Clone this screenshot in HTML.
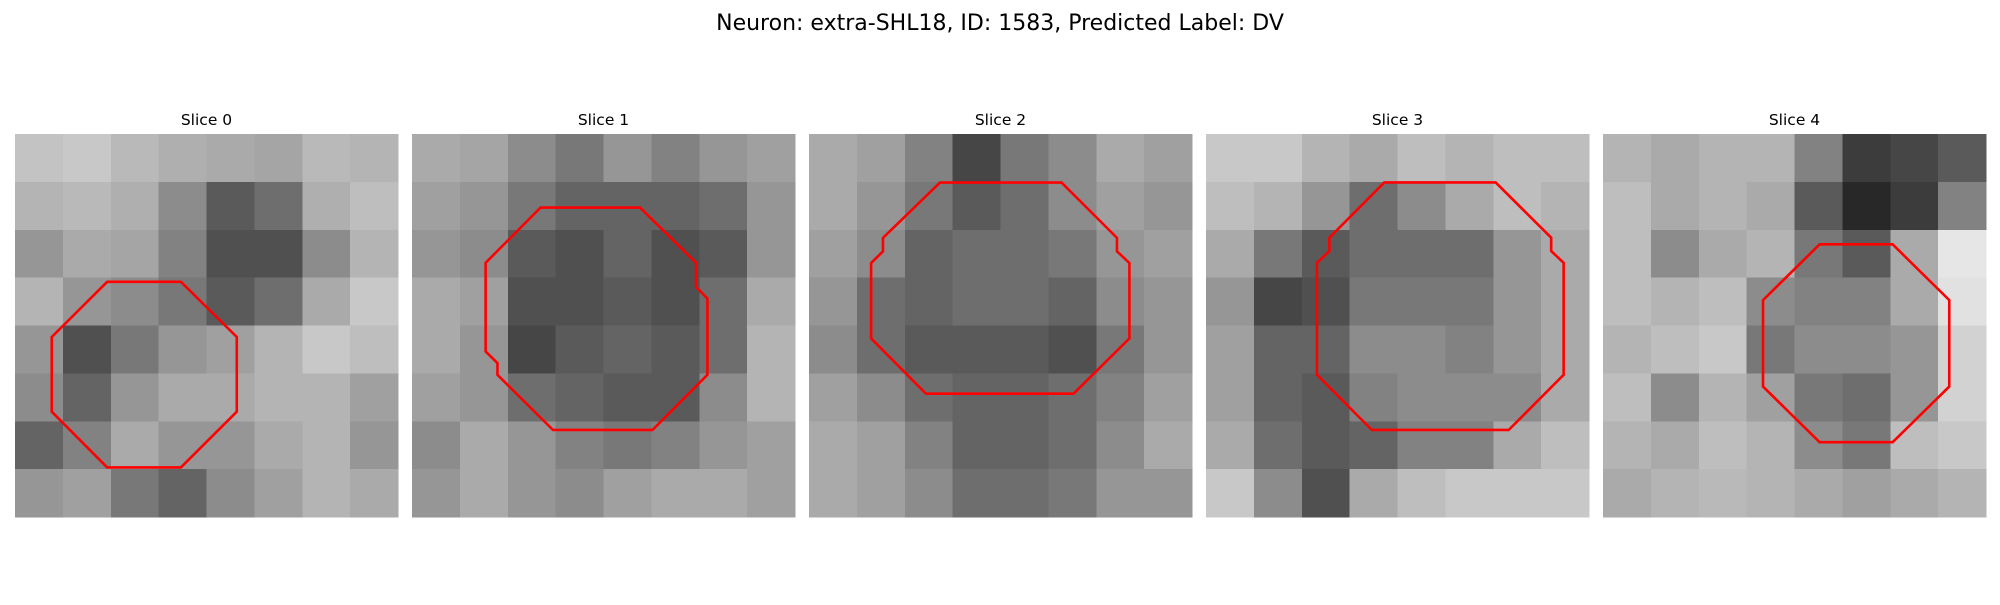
<!DOCTYPE html>
<html>
<head>
<meta charset="utf-8">
<style>
  html, body { margin: 0; padding: 0; background: #ffffff; }
  body { width: 2000px; height: 600px; overflow: hidden; }
  svg text { font-family: "DejaVu Sans", "Liberation Sans", sans-serif; fill: #000; }
</style>
</head>
<body>
<svg id="fig" width="2000" height="600" viewBox="0 0 2000 600" xmlns="http://www.w3.org/2000/svg" shape-rendering="crispEdges">
  <text x="1000" y="30" font-size="22" text-anchor="middle">Neuron: extra-SHL18, ID: 1583, Predicted Label: DV</text>
</svg>
<script>
// Panel titles
const sliceTitles = ["Slice 0", "Slice 1", "Slice 2", "Slice 3", "Slice 4"];
// Coarse 8x8 grayscale intensities (0-255) per slice
const slice0 = [
  [195,200,185,175,170,165,185,180],
  [180,185,175,140,90,110,175,190],
  [150,170,165,130,80,80,140,180],
  [180,150,140,120,90,110,170,200],
  [150,80,120,150,160,180,200,190],
  [140,100,150,170,170,180,180,160],
  [100,130,170,150,150,170,180,150],
  [150,160,120,100,140,160,180,170]
];
const slice1 = [
  [170,165,140,120,150,130,150,160],
  [160,150,120,100,100,100,110,150],
  [150,140,90,80,100,80,90,150],
  [170,160,80,80,90,80,110,170],
  [170,150,70,90,100,90,110,180],
  [160,150,110,100,90,90,140,180],
  [140,170,150,130,120,130,150,160],
  [150,170,150,140,160,170,170,160]
];
const slice2 = [
  [170,160,130,70,120,140,170,160],
  [170,150,120,90,110,140,160,150],
  [160,140,100,110,110,120,150,160],
  [150,110,100,110,110,100,140,150],
  [140,110,90,90,90,80,120,150],
  [160,140,110,100,100,110,130,160],
  [170,160,130,100,100,110,140,170],
  [170,160,140,110,110,120,150,150]
];
const slice3 = [
  [200,200,180,170,190,180,190,190],
  [190,180,150,110,140,170,190,180],
  [170,120,90,110,110,110,150,170],
  [150,70,80,120,120,120,150,170],
  [160,100,100,140,140,130,150,170],
  [160,100,90,130,140,140,140,170],
  [170,110,90,100,130,130,170,190],
  [200,140,80,170,190,200,200,200]
];
const slice4 = [
  [180,170,180,180,130,60,70,90],
  [190,170,180,170,90,40,60,130],
  [190,140,170,180,120,90,170,230],
  [190,180,190,140,130,130,170,225],
  [180,190,200,120,140,140,150,210],
  [190,140,180,160,120,110,150,210],
  [180,170,190,180,140,120,190,200],
  [170,180,185,180,170,160,170,180]
];
// ROI contour vertices in image pixel units (image is 32x32 px)
const contour0 = [[7.7,12.35],[13.86,12.35],[18.53,16.96],[18.53,23.2],[13.86,27.86],[7.7,27.86],[3.07,23.2],[3.07,16.96]];
const contour1 = [[10.74,6.15],[19.05,6.15],[23.73,10.76],[23.73,12.77],[24.68,13.75],[24.68,20.12],[20.09,24.73],[11.78,24.73],[7.14,20.12],[7.14,19.14],[6.15,18.17],[6.15,10.76]];
const contour2 = [[10.94,4.06],[21.1,4.06],[25.73,8.68],[25.73,9.8],[26.77,10.78],[26.77,17.08],[22.1,21.7],[9.77,21.7],[5.19,17.08],[5.19,10.78],[6.18,9.8],[6.18,8.68]];
const contour3 = [[14.9,4.05],[24.2,4.05],[28.84,8.66],[28.84,9.78],[29.88,10.76],[29.88,20.12],[25.29,24.73],[13.86,24.73],[9.27,20.12],[9.27,10.76],[10.31,9.78],[10.31,8.66]];
const contour4 = [[18.1,9.22],[24.2,9.22],[28.93,13.88],[28.93,21.1],[24.2,25.75],[18.1,25.75],[13.37,21.1],[13.37,13.88]];

const grids = [slice0, slice1, slice2, slice3, slice4];
const contours = [contour0, contour1, contour2, contour3, contour4];

const NS = "http://www.w3.org/2000/svg";
const svg = document.getElementById("fig");
const panelLeft = [15, 412, 809, 1206, 1603];
const panelTop = 134, panelSize = 383, imgPx = 32;

function xScale(p, v) { return panelLeft[p] + v / imgPx * panelSize; }
function yScale(v) { return panelTop + v / imgPx * panelSize; }

grids.forEach((grid, p) => {
  const g = document.createElementNS(NS, "g");
  
  
  svg.appendChild(g);

  const t = document.createElementNS(NS, "text");
  
  
  t.setAttribute("x", panelLeft[p] + panelSize / 2);
  t.setAttribute("y", 125);
  t.setAttribute("font-size", "15.5");
  t.setAttribute("text-anchor", "middle");
  t.textContent = sliceTitles[p];
  g.appendChild(t);

  const n = grid.length;
  const cell = imgPx / n;
  grid.forEach((row, r) => {
    row.forEach((val, c) => {
      const rect = document.createElementNS(NS, "rect");
      
      
      const x0 = xScale(p, c * cell), x1 = xScale(p, (c + 1) * cell);
      const y0 = yScale(r * cell), y1 = yScale((r + 1) * cell);
      rect.setAttribute("x", x0);
      rect.setAttribute("y", y0);
      rect.setAttribute("width", x1 - x0 + 0.5);
      rect.setAttribute("height", y1 - y0 + 0.5);
      rect.setAttribute("fill", `rgb(${val},${val},${val})`);
      g.appendChild(rect);
    });
  });

  const poly = document.createElementNS(NS, "polygon");
  
  
  poly.setAttribute("points", contours[p].map(pt => xScale(p, pt[0]) + "," + yScale(pt[1])).join(" "));
  poly.setAttribute("fill", "none");
  poly.setAttribute("stroke", "#ff0000");
  poly.setAttribute("stroke-width", "2.6");
  poly.setAttribute("shape-rendering", "geometricPrecision");
  g.appendChild(poly);
});
</script>
</body>
</html>
